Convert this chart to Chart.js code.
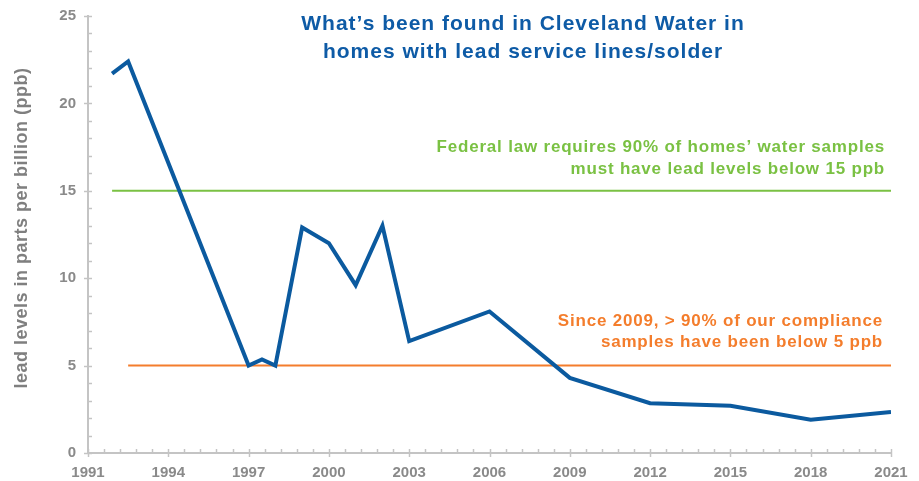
<!DOCTYPE html>
<html>
<head>
<meta charset="utf-8">
<script src="https://cdn.jsdelivr.net/npm/chart.js@4.4.1/dist/chart.umd.min.js"></script>
<style>
  html, body { margin: 0; padding: 0; background: #fff; }
  #wrap { width: 919px; height: 481px; position: relative; }
</style>
</head>
<body>
<div id="wrap"><canvas id="leadChart"></canvas></div>
<script>
// sample years and 90th percentile lead levels (ppb)
const sampleYears = [1991.9, 1992.5, 1997, 1997.5, 1998, 1999, 2000, 2001, 2002, 2003, 2006, 2009, 2012, 2015, 2018, 2021];
const leadLevels  = [21.7, 22.4, 5.0, 5.35, 5.0, 12.9, 12.0, 9.6, 13.0, 6.4, 8.1, 4.3, 2.85, 2.7, 1.9, 2.35];

// reference lines: [startYear, endYear], level
const federalSpan = [1991.9, 2021];
const federalLevel = 15;
const complianceSpan = [1992.5, 2021];
const complianceLevel = 5;

const titleLines = ['What\u2019s been found in Cleveland Water in', 'homes with lead service lines/solder'];
const federalNote = ['Federal law requires 90% of homes\u2019 water samples', 'must have lead levels below 15 ppb'];
const complianceNote = ['Since 2009, > 90% of our compliance', 'samples have been below 5 ppb'];
const yTitle = 'lead levels in parts per billion (ppb)';

const FONT = '"Liberation Sans", Arial, Helvetica, sans-serif';
const BLUE = '#0b5a9f';
const GREEN = '#7ac143';
const ORANGE = '#f47d2c';
const AXIS = '#c4c4c4';
const TICKTEXT = '#8a8a8a';

// minor / major tick marks on both axes
const tickMarks = {
  id: 'tickMarks',
  beforeDatasetsDraw(chart) {
    const { ctx, scales: { x, y } } = chart;
    ctx.save();
    ctx.strokeStyle = AXIS;
    ctx.lineWidth = 1.5;
    const ax = x.getPixelForValue(1991);
    const ay = y.getPixelForValue(0);
    for (let v = 0; v <= 25; v++) {
      const py = Math.round(y.getPixelForValue(v)) + 0.5;
      const major = v % 5 === 0;
      ctx.beginPath();
      ctx.moveTo(major ? ax - 4 : ax, py);
      ctx.lineTo(ax + 4, py);
      ctx.stroke();
    }
    for (let k = 0; k <= 50; k++) {
      const px = Math.round(x.getPixelForValue(1991 + 0.6 * k)) + 0.5;
      const major = k % 5 === 0;
      ctx.beginPath();
      ctx.moveTo(px, ay - 4);
      ctx.lineTo(px, major ? ay + 4 : ay);
      ctx.stroke();
    }
    ctx.restore();
  }
};

// title, notes and rotated axis title
const notes = {
  id: 'notes',
  afterDraw(chart) {
    const ctx = chart.ctx;
    ctx.save();
    ctx.textBaseline = 'alphabetic';

    ctx.font = 'bold 21px ' + FONT;
    ctx.letterSpacing = '1px';
    ctx.fillStyle = '#0e5ba6';
    ctx.textAlign = 'center';
    ctx.fillText(titleLines[0], 523, 29.5);
    ctx.fillText(titleLines[1], 523, 57.5);

    ctx.font = 'bold 17px ' + FONT;
    ctx.letterSpacing = '0.8px';
    ctx.textAlign = 'right';
    ctx.fillStyle = GREEN;
    ctx.fillText(federalNote[0], 885, 151.5);
    ctx.fillText(federalNote[1], 885, 174);
    ctx.fillStyle = ORANGE;
    ctx.fillText(complianceNote[0], 883, 326);
    ctx.fillText(complianceNote[1], 883, 346.5);

    ctx.translate(26.5, 228);
    ctx.rotate(-Math.PI / 2);
    ctx.font = 'bold 18px ' + FONT;
    ctx.letterSpacing = '0.5px';
    ctx.textAlign = 'center';
    ctx.fillStyle = '#7f7f7f';
    ctx.fillText(yTitle, 0, 0);
    ctx.restore();
  }
};

const ctx = document.getElementById('leadChart').getContext('2d');
new Chart(ctx, {
  type: 'line',
  data: {
    datasets: [
      {
        label: 'Lead level',
        data: sampleYears.map((yr, i) => ({ x: yr, y: leadLevels[i] })),
        borderColor: BLUE,
        borderWidth: 4,
        borderJoinStyle: 'miter',
        pointRadius: 0,
        tension: 0
      },
      {
        label: 'Federal limit',
        data: federalSpan.map(yr => ({ x: yr, y: federalLevel })),
        borderColor: GREEN,
        borderWidth: 2,
        pointRadius: 0
      },
      {
        label: 'Compliance',
        data: complianceSpan.map(yr => ({ x: yr, y: complianceLevel })),
        borderColor: ORANGE,
        borderWidth: 2,
        pointRadius: 0
      }
    ]
  },
  options: {
    responsive: true,
    maintainAspectRatio: false,
    animation: false,
    layout: { padding: { left: 0, right: 28, top: 16, bottom: 0 } },
    plugins: {
      legend: { display: false },
      tooltip: { enabled: false }
    },
    scales: {
      x: {
        type: 'linear',
        min: 1991,
        max: 2021,
        afterFit: s => { s.height = 28; s.paddingLeft = 0; s.paddingRight = 0; },
        ticks: {
          stepSize: 3,
          color: TICKTEXT,
          padding: 11,
          maxRotation: 0,
          font: { family: FONT, size: 15, weight: 'bold' },
          callback: v => String(v)
        },
        grid: { display: false, drawTicks: false },
        border: { display: true, color: AXIS, width: 2 }
      },
      y: {
        min: 0,
        max: 25,
        afterFit: s => { s.width = 88; s.paddingTop = 0; s.paddingBottom = 0; },
        ticks: {
          stepSize: 5,
          color: TICKTEXT,
          padding: 12,
          font: { family: FONT, size: 15, weight: 'bold' }
        },
        grid: { display: false, drawTicks: false },
        border: { display: true, color: AXIS, width: 2 }
      }
    }
  },
  plugins: [tickMarks, notes]
});
</script>
</body>
</html>
